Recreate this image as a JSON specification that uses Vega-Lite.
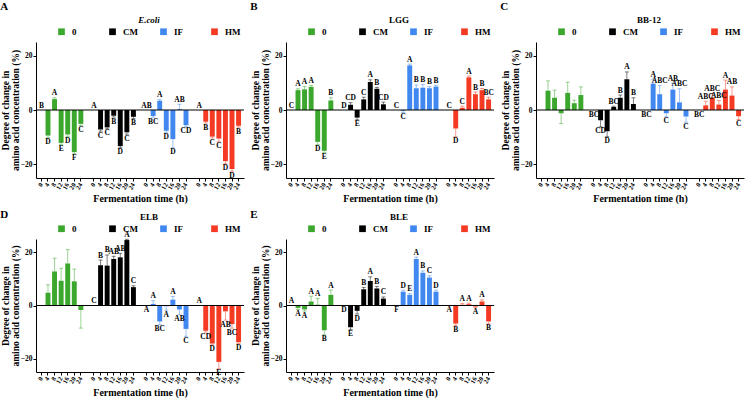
{
  "$schema": "https://vega.github.io/schema/vega-lite/v6.json",
  "padding": {"left": 0, "top": 1, "right": 0, "bottom": 0},
  "background": "white",
  "config": {
    "font": "Liberation Serif",
    "view": {"stroke": null},
    "title": {"font": "Liberation Serif", "fontWeight": "bold", "color": "black", "anchor": "start", "frame": "bounds", "fontSize": 11, "offset": 0},
    "axis": {
      "labelFont": "Liberation Serif", "labelFontWeight": "bold", "labelColor": "black",
      "titleFont": "Liberation Serif", "titleFontWeight": "bold", "titleColor": "black",
      "domainColor": "black", "tickColor": "black", "grid": false, "tickSize": 3
    },
    "axisY": {"labelFontSize": 7.5, "labelPadding": 1, "titleFontSize": 9.5, "titleLineHeight": 10, "titlePadding": 0},
    "axisX": {"labelFontSize": 6.5, "labelAngle": -60, "labelPadding": 2, "titleFontSize": 10, "titlePadding": 3},
    "legend": {
      "orient": "none", "direction": "horizontal", "columns": 4, "gridAlign": "all",
      "columnPadding": 20, "symbolType": "square", "symbolSize": 45, "symbolStrokeWidth": 0, "symbolOpacity": 1,
      "labelFont": "Liberation Serif", "labelFontWeight": "bold", "labelFontSize": 9, "labelColor": "black",
      "labelOffset": 6, "padding": 0, "legendX": 21, "legendY": -26,
      "titleOrient": "top", "titleAnchor": "middle", "titleFont": "Liberation Serif", "titleFontWeight": "bold",
      "titleFontSize": 9, "titleColor": "black", "titlePadding": 2
    }
  },
  "datasets": {
    "aa": [
      {"p": "A", "g": "0", "h": 0, "v": 0, "sd": 0, "sig": "B"},
      {"p": "A", "g": "0", "h": 4, "v": -9.4, "sd": 0.8, "sig": "D"},
      {"p": "A", "g": "0", "h": 8, "v": 4.0, "sd": 0.5, "sig": "A"},
      {"p": "A", "g": "0", "h": 12, "v": -12.1, "sd": 0.6, "sig": "E"},
      {"p": "A", "g": "0", "h": 16, "v": -9.0, "sd": 0.7, "sig": "D"},
      {"p": "A", "g": "0", "h": 20, "v": -15.5, "sd": 0.6, "sig": "F"},
      {"p": "A", "g": "0", "h": 24, "v": -5.1, "sd": 0.6, "sig": "C"},
      {"p": "A", "g": "CM", "h": 0, "v": 0, "sd": 0, "sig": "A"},
      {"p": "A", "g": "CM", "h": 4, "v": -7.2, "sd": 0.6, "sig": "C"},
      {"p": "A", "g": "CM", "h": 8, "v": -6.4, "sd": 0.5, "sig": "C"},
      {"p": "A", "g": "CM", "h": 12, "v": -2.1, "sd": 0.5, "sig": "B"},
      {"p": "A", "g": "CM", "h": 16, "v": -13.3, "sd": 0.6, "sig": "D"},
      {"p": "A", "g": "CM", "h": 20, "v": -8.2, "sd": 0.7, "sig": "C"},
      {"p": "A", "g": "CM", "h": 24, "v": -2.5, "sd": 0.6, "sig": "B"},
      {"p": "A", "g": "IF", "h": 0, "v": 0, "sd": 0, "sig": "AB"},
      {"p": "A", "g": "IF", "h": 4, "v": -2.2, "sd": 0.5, "sig": "BC"},
      {"p": "A", "g": "IF", "h": 8, "v": 3.4, "sd": 0.4, "sig": "A"},
      {"p": "A", "g": "IF", "h": 12, "v": -7.6, "sd": 0.6, "sig": "D"},
      {"p": "A", "g": "IF", "h": 16, "v": -10.7, "sd": 3.2, "sig": "D"},
      {"p": "A", "g": "IF", "h": 20, "v": 0.3, "sd": 1.8, "sig": "AB"},
      {"p": "A", "g": "IF", "h": 24, "v": -5.6, "sd": 0.6, "sig": "CD"},
      {"p": "A", "g": "HM", "h": 0, "v": 0, "sd": 0, "sig": "A"},
      {"p": "A", "g": "HM", "h": 4, "v": -4.3, "sd": 0.5, "sig": "B"},
      {"p": "A", "g": "HM", "h": 8, "v": -9.8, "sd": 0.5, "sig": "C"},
      {"p": "A", "g": "HM", "h": 12, "v": -10.5, "sd": 1.2, "sig": "C"},
      {"p": "A", "g": "HM", "h": 16, "v": -18.8, "sd": 1.0, "sig": "D"},
      {"p": "A", "g": "HM", "h": 20, "v": -21.7, "sd": 0.8, "sig": "D"},
      {"p": "A", "g": "HM", "h": 24, "v": -5.8, "sd": 0.5, "sig": "B"},

      {"p": "B", "g": "0", "h": 0, "v": 0, "sd": 0, "sig": "C"},
      {"p": "B", "g": "0", "h": 4, "v": 7.3, "sd": 0.5, "sig": "A"},
      {"p": "B", "g": "0", "h": 8, "v": 7.6, "sd": 1.0, "sig": "A"},
      {"p": "B", "g": "0", "h": 12, "v": 8.5, "sd": 0.5, "sig": "A"},
      {"p": "B", "g": "0", "h": 16, "v": -11.7, "sd": 1.0, "sig": "D"},
      {"p": "B", "g": "0", "h": 20, "v": -15.0, "sd": 0.6, "sig": "E"},
      {"p": "B", "g": "0", "h": 24, "v": 3.5, "sd": 1.0, "sig": "B"},
      {"p": "B", "g": "CM", "h": 0, "v": 0, "sd": 0, "sig": "D"},
      {"p": "B", "g": "CM", "h": 4, "v": 1.9, "sd": 0.8, "sig": "CD"},
      {"p": "B", "g": "CM", "h": 8, "v": -2.8, "sd": 0.8, "sig": "E"},
      {"p": "B", "g": "CM", "h": 12, "v": 3.9, "sd": 0.8, "sig": "C"},
      {"p": "B", "g": "CM", "h": 16, "v": 10.3, "sd": 0.8, "sig": "A"},
      {"p": "B", "g": "CM", "h": 20, "v": 7.8, "sd": 0.5, "sig": "B"},
      {"p": "B", "g": "CM", "h": 24, "v": 2.1, "sd": 0.8, "sig": "CD"},
      {"p": "B", "g": "IF", "h": 0, "v": 0, "sd": 0, "sig": "C"},
      {"p": "B", "g": "IF", "h": 4, "v": -0.3, "sd": 0.6, "sig": "C"},
      {"p": "B", "g": "IF", "h": 8, "v": 16.4, "sd": 0.5, "sig": "A"},
      {"p": "B", "g": "IF", "h": 12, "v": 8.0, "sd": 1.2, "sig": "B"},
      {"p": "B", "g": "IF", "h": 16, "v": 8.2, "sd": 1.2, "sig": "B"},
      {"p": "B", "g": "IF", "h": 20, "v": 8.0, "sd": 0.6, "sig": "B"},
      {"p": "B", "g": "IF", "h": 24, "v": 8.6, "sd": 0.5, "sig": "B"},
      {"p": "B", "g": "HM", "h": 0, "v": 0, "sd": 0, "sig": "C"},
      {"p": "B", "g": "HM", "h": 4, "v": -6.8, "sd": 3.0, "sig": "D"},
      {"p": "B", "g": "HM", "h": 8, "v": 0.8, "sd": 0.6, "sig": "C"},
      {"p": "B", "g": "HM", "h": 12, "v": 12.0, "sd": 0.5, "sig": "A"},
      {"p": "B", "g": "HM", "h": 16, "v": 5.8, "sd": 0.8, "sig": "B"},
      {"p": "B", "g": "HM", "h": 20, "v": 7.3, "sd": 0.6, "sig": "B"},
      {"p": "B", "g": "HM", "h": 24, "v": 3.9, "sd": 0.8, "sig": "BC"},

      {"p": "C", "g": "0", "h": 0, "v": 0, "sd": 0, "sig": ""},
      {"p": "C", "g": "0", "h": 4, "v": 7.1, "sd": 3.6, "sig": ""},
      {"p": "C", "g": "0", "h": 8, "v": 4.5, "sd": 2.8, "sig": ""},
      {"p": "C", "g": "0", "h": 12, "v": -1.2, "sd": 3.8, "sig": ""},
      {"p": "C", "g": "0", "h": 16, "v": 6.3, "sd": 3.9, "sig": ""},
      {"p": "C", "g": "0", "h": 20, "v": 2.5, "sd": 1.1, "sig": ""},
      {"p": "C", "g": "0", "h": 24, "v": 5.5, "sd": 3.0, "sig": ""},
      {"p": "C", "g": "CM", "h": 0, "v": -0.01, "sd": 0, "sig": "BC"},
      {"p": "C", "g": "CM", "h": 4, "v": -3.8, "sd": 2.4, "sig": "CD"},
      {"p": "C", "g": "CM", "h": 8, "v": -7.8, "sd": 2.0, "sig": "D"},
      {"p": "C", "g": "CM", "h": 12, "v": 1.1, "sd": 0.3, "sig": "BC"},
      {"p": "C", "g": "CM", "h": 16, "v": 4.5, "sd": 1.0, "sig": "B"},
      {"p": "C", "g": "CM", "h": 20, "v": 11.3, "sd": 2.7, "sig": "A"},
      {"p": "C", "g": "CM", "h": 24, "v": 2.2, "sd": 2.3, "sig": "B"},
      {"p": "C", "g": "IF", "h": 0, "v": -0.01, "sd": 0, "sig": "BC"},
      {"p": "C", "g": "IF", "h": 4, "v": 9.7, "sd": 1.6, "sig": "A"},
      {"p": "C", "g": "IF", "h": 8, "v": 5.8, "sd": 3.2, "sig": "ABC"},
      {"p": "C", "g": "IF", "h": 12, "v": -1.2, "sd": 1.3, "sig": "C"},
      {"p": "C", "g": "IF", "h": 16, "v": 7.5, "sd": 2.3, "sig": "AB"},
      {"p": "C", "g": "IF", "h": 20, "v": 2.8, "sd": 5.0, "sig": "ABC"},
      {"p": "C", "g": "IF", "h": 24, "v": -2.4, "sd": 2.1, "sig": "C"},
      {"p": "C", "g": "HM", "h": 0, "v": -0.01, "sd": 0, "sig": "BC"},
      {"p": "C", "g": "HM", "h": 4, "v": 1.7, "sd": 1.5, "sig": "ABC"},
      {"p": "C", "g": "HM", "h": 8, "v": 4.5, "sd": 1.5, "sig": "ABC"},
      {"p": "C", "g": "HM", "h": 12, "v": 2.0, "sd": 1.5, "sig": "ABC"},
      {"p": "C", "g": "HM", "h": 16, "v": 7.5, "sd": 3.5, "sig": "A"},
      {"p": "C", "g": "HM", "h": 20, "v": 5.3, "sd": 3.2, "sig": "AB"},
      {"p": "C", "g": "HM", "h": 24, "v": -2.3, "sd": 1.2, "sig": "C"},

      {"p": "D", "g": "0", "h": 0, "v": 0, "sd": 0, "sig": ""},
      {"p": "D", "g": "0", "h": 4, "v": 4.8, "sd": 3.0, "sig": ""},
      {"p": "D", "g": "0", "h": 8, "v": 12.8, "sd": 5.0, "sig": ""},
      {"p": "D", "g": "0", "h": 12, "v": 9.3, "sd": 4.7, "sig": ""},
      {"p": "D", "g": "0", "h": 16, "v": 15.8, "sd": 5.2, "sig": ""},
      {"p": "D", "g": "0", "h": 20, "v": 9.1, "sd": 4.6, "sig": ""},
      {"p": "D", "g": "0", "h": 24, "v": -1.7, "sd": 6.8, "sig": ""},
      {"p": "D", "g": "CM", "h": 0, "v": 0, "sd": 0, "sig": "C"},
      {"p": "D", "g": "CM", "h": 4, "v": 15.1, "sd": 2.0, "sig": "B"},
      {"p": "D", "g": "CM", "h": 8, "v": 15.0, "sd": 4.0, "sig": "B"},
      {"p": "D", "g": "CM", "h": 12, "v": 17.5, "sd": 1.0, "sig": "AB"},
      {"p": "D", "g": "CM", "h": 16, "v": 18.1, "sd": 1.5, "sig": "AB"},
      {"p": "D", "g": "CM", "h": 20, "v": 24.6, "sd": 0.3, "sig": "A"},
      {"p": "D", "g": "CM", "h": 24, "v": 6.9, "sd": 0.5, "sig": "C"},
      {"p": "D", "g": "IF", "h": 0, "v": -0.01, "sd": 0, "sig": "A"},
      {"p": "D", "g": "IF", "h": 4, "v": 0.6, "sd": 1.2, "sig": "A"},
      {"p": "D", "g": "IF", "h": 8, "v": -6.0, "sd": 1.2, "sig": "BC"},
      {"p": "D", "g": "IF", "h": 12, "v": -0.3, "sd": 1.5, "sig": "A"},
      {"p": "D", "g": "IF", "h": 16, "v": 2.2, "sd": 1.2, "sig": "A"},
      {"p": "D", "g": "IF", "h": 20, "v": -1.5, "sd": 2.0, "sig": "AB"},
      {"p": "D", "g": "IF", "h": 24, "v": -8.8, "sd": 2.8, "sig": "C"},
      {"p": "D", "g": "HM", "h": 0, "v": 0, "sd": 0, "sig": "A"},
      {"p": "D", "g": "HM", "h": 4, "v": -9.5, "sd": 0.5, "sig": "CD"},
      {"p": "D", "g": "HM", "h": 8, "v": -14.3, "sd": 0.5, "sig": "D"},
      {"p": "D", "g": "HM", "h": 12, "v": -21.2, "sd": 2.6, "sig": "E"},
      {"p": "D", "g": "HM", "h": 16, "v": -2.2, "sd": 3.3, "sig": "AB"},
      {"p": "D", "g": "HM", "h": 20, "v": -7.0, "sd": 1.5, "sig": "BC"},
      {"p": "D", "g": "HM", "h": 24, "v": -13.8, "sd": 0.5, "sig": "D"},

      {"p": "E", "g": "0", "h": 0, "v": 0, "sd": 0, "sig": "A"},
      {"p": "E", "g": "0", "h": 4, "v": -0.9, "sd": 0.6, "sig": "A"},
      {"p": "E", "g": "0", "h": 8, "v": -1.5, "sd": 0.6, "sig": "A"},
      {"p": "E", "g": "0", "h": 12, "v": 1.5, "sd": 2.0, "sig": "A"},
      {"p": "E", "g": "0", "h": 16, "v": 0.3, "sd": 2.4, "sig": "A"},
      {"p": "E", "g": "0", "h": 20, "v": -9.3, "sd": 1.7, "sig": "B"},
      {"p": "E", "g": "0", "h": 24, "v": 4.0, "sd": 1.8, "sig": "A"},
      {"p": "E", "g": "CM", "h": 0, "v": -0.01, "sd": 0, "sig": "D"},
      {"p": "E", "g": "CM", "h": 4, "v": -8.2, "sd": 0.8, "sig": "E"},
      {"p": "E", "g": "CM", "h": 8, "v": -2.0, "sd": 1.2, "sig": "D"},
      {"p": "E", "g": "CM", "h": 12, "v": 6.1, "sd": 0.7, "sig": "B"},
      {"p": "E", "g": "CM", "h": 16, "v": 9.2, "sd": 1.6, "sig": "A"},
      {"p": "E", "g": "CM", "h": 20, "v": 6.4, "sd": 0.8, "sig": "B"},
      {"p": "E", "g": "CM", "h": 24, "v": 2.6, "sd": 0.6, "sig": "C"},
      {"p": "E", "g": "IF", "h": 0, "v": -0.01, "sd": 0, "sig": "F"},
      {"p": "E", "g": "IF", "h": 4, "v": 5.2, "sd": 0.6, "sig": "D"},
      {"p": "E", "g": "IF", "h": 8, "v": 4.0, "sd": 0.5, "sig": "E"},
      {"p": "E", "g": "IF", "h": 12, "v": 17.5, "sd": 0.7, "sig": "A"},
      {"p": "E", "g": "IF", "h": 16, "v": 12.3, "sd": 0.7, "sig": "B"},
      {"p": "E", "g": "IF", "h": 20, "v": 10.5, "sd": 0.7, "sig": "C"},
      {"p": "E", "g": "IF", "h": 24, "v": 5.2, "sd": 0.6, "sig": "D"},
      {"p": "E", "g": "HM", "h": 0, "v": -0.01, "sd": 0, "sig": "A"},
      {"p": "E", "g": "HM", "h": 4, "v": -6.8, "sd": 0.7, "sig": "B"},
      {"p": "E", "g": "HM", "h": 8, "v": 0.3, "sd": 0.5, "sig": "A"},
      {"p": "E", "g": "HM", "h": 12, "v": 0.5, "sd": 0.4, "sig": "A"},
      {"p": "E", "g": "HM", "h": 16, "v": -0.4, "sd": 0.4, "sig": "A"},
      {"p": "E", "g": "HM", "h": 20, "v": 1.5, "sd": 0.6, "sig": "A"},
      {"p": "E", "g": "HM", "h": 24, "v": -6.0, "sd": 0.9, "sig": "B"}
    ]
  },
  "columns": 3,
  "spacing": {"column": 5, "row": 5},
  "resolve": {"scale": {"color": "independent"}, "legend": {"color": "independent"}},
  "concat": [
    {
      "title": "A",
      "width": 208, "height": 136,
      "data": {"name": "aa"},
      "transform": [
        {"filter": "datum.p == 'A'"},
        {"calculate": "datum.g + '|' + datum.h", "as": "k"},
        {"calculate": "datum.v < 0 ? datum.v - datum.sd : datum.v + datum.sd", "as": "e"}
      ],
      "layer": [
        {
          "encoding": {
            "x": {"field": "k", "type": "nominal",
              "scale": {"domain": ["0|0","0|4","0|8","0|12","0|16","0|20","0|24","g1","CM|0","CM|4","CM|8","CM|12","CM|16","CM|20","CM|24","g2","IF|0","IF|4","IF|8","IF|12","IF|16","IF|20","IF|24","g3","HM|0","HM|4","HM|8","HM|12","HM|16","HM|20","HM|24"], "paddingInner": 0.25, "paddingOuter": 0.45},
              "axis": {"values": ["0|0","0|4","0|8","0|12","0|16","0|20","0|24","CM|0","CM|4","CM|8","CM|12","CM|16","CM|20","CM|24","IF|0","IF|4","IF|8","IF|12","IF|16","IF|20","IF|24","HM|0","HM|4","HM|8","HM|12","HM|16","HM|20","HM|24"], "labelExpr": "split(datum.value, '|')[1]", "title": "Fermentation time (h)"}}
          },
          "layer": [
            {"mark": {"type": "bar"},
             "encoding": {
               "y": {"field": "v", "type": "quantitative", "scale": {"domain": [-25, 25]}, "axis": {"values": [-20, -10, 0, 10, 20], "title": ["Degree of change in", "amino acid concentration (%)"]}},
               "color": {"field": "g", "type": "nominal", "scale": {"domain": ["0", "CM", "IF", "HM"], "range": ["#3ba72c", "#000000", "#4088ef", "#f43a22"]}, "legend": {"title": "E.coli", "titleFontStyle": "italic", "symbolOpacity": 1}}
             }},
            {"transform": [{"filter": "datum.sd > 0"}],
             "mark": {"type": "rule", "strokeOpacity": 0.5, "strokeWidth": 1},
             "encoding": {"y": {"field": "v", "type": "quantitative"}, "y2": {"field": "e"}, "color": {"field": "g", "type": "nominal"}}},
            {"transform": [{"filter": "datum.sd > 0"}],
             "mark": {"type": "tick", "orient": "horizontal", "size": 4, "thickness": 1, "fillOpacity": 0.5, "strokeOpacity": 0.5},
             "encoding": {"y": {"field": "e", "type": "quantitative"}, "color": {"field": "g", "type": "nominal"}}},
            {"transform": [{"filter": "datum.v >= 0"}],
             "mark": {"type": "text", "baseline": "bottom", "dy": -0.5, "fontSize": 7.5, "fontWeight": "bold", "color": "black"},
             "encoding": {"y": {"field": "e", "type": "quantitative"}, "text": {"field": "sig"}}},
            {"transform": [{"filter": "datum.v < 0"}],
             "mark": {"type": "text", "baseline": "top", "dy": 0.5, "fontSize": 7.5, "fontWeight": "bold", "color": "black"},
             "encoding": {"y": {"field": "e", "type": "quantitative"}, "text": {"field": "sig"}}}
          ]
        },
        {"data": {"values": [{}]}, "mark": {"type": "rule", "color": "black", "strokeWidth": 1}, "encoding": {"y": {"datum": 0}}}
      ]
    },
    {
      "title": "B",
      "width": 208, "height": 136,
      "data": {"name": "aa"},
      "transform": [
        {"filter": "datum.p == 'B'"},
        {"calculate": "datum.g + '|' + datum.h", "as": "k"},
        {"calculate": "datum.v < 0 ? datum.v - datum.sd : datum.v + datum.sd", "as": "e"}
      ],
      "layer": [
        {
          "encoding": {
            "x": {"field": "k", "type": "nominal",
              "scale": {"domain": ["0|0","0|4","0|8","0|12","0|16","0|20","0|24","g1","CM|0","CM|4","CM|8","CM|12","CM|16","CM|20","CM|24","g2","IF|0","IF|4","IF|8","IF|12","IF|16","IF|20","IF|24","g3","HM|0","HM|4","HM|8","HM|12","HM|16","HM|20","HM|24"], "paddingInner": 0.25, "paddingOuter": 0.45},
              "axis": {"values": ["0|0","0|4","0|8","0|12","0|16","0|20","0|24","CM|0","CM|4","CM|8","CM|12","CM|16","CM|20","CM|24","IF|0","IF|4","IF|8","IF|12","IF|16","IF|20","IF|24","HM|0","HM|4","HM|8","HM|12","HM|16","HM|20","HM|24"], "labelExpr": "split(datum.value, '|')[1]", "title": "Fermentation time (h)"}}
          },
          "layer": [
            {"mark": {"type": "bar"},
             "encoding": {
               "y": {"field": "v", "type": "quantitative", "scale": {"domain": [-25, 25]}, "axis": {"values": [-20, -10, 0, 10, 20], "title": ["Degree of change in", "amino acid concentration (%)"]}},
               "color": {"field": "g", "type": "nominal", "scale": {"domain": ["0", "CM", "IF", "HM"], "range": ["#3ba72c", "#000000", "#4088ef", "#f43a22"]}, "legend": {"title": "LGG", "symbolOpacity": 1}}
             }},
            {"transform": [{"filter": "datum.sd > 0"}],
             "mark": {"type": "rule", "strokeOpacity": 0.5, "strokeWidth": 1},
             "encoding": {"y": {"field": "v", "type": "quantitative"}, "y2": {"field": "e"}, "color": {"field": "g", "type": "nominal"}}},
            {"transform": [{"filter": "datum.sd > 0"}],
             "mark": {"type": "tick", "orient": "horizontal", "size": 4, "thickness": 1, "fillOpacity": 0.5, "strokeOpacity": 0.5},
             "encoding": {"y": {"field": "e", "type": "quantitative"}, "color": {"field": "g", "type": "nominal"}}},
            {"transform": [{"filter": "datum.v >= 0"}],
             "mark": {"type": "text", "baseline": "bottom", "dy": -0.5, "fontSize": 7.5, "fontWeight": "bold", "color": "black"},
             "encoding": {"y": {"field": "e", "type": "quantitative"}, "text": {"field": "sig"}}},
            {"transform": [{"filter": "datum.v < 0"}],
             "mark": {"type": "text", "baseline": "top", "dy": 0.5, "fontSize": 7.5, "fontWeight": "bold", "color": "black"},
             "encoding": {"y": {"field": "e", "type": "quantitative"}, "text": {"field": "sig"}}}
          ]
        },
        {"data": {"values": [{}]}, "mark": {"type": "rule", "color": "black", "strokeWidth": 1}, "encoding": {"y": {"datum": 0}}}
      ]
    },
    {
      "title": "C",
      "width": 208, "height": 136,
      "data": {"name": "aa"},
      "transform": [
        {"filter": "datum.p == 'C'"},
        {"calculate": "datum.g + '|' + datum.h", "as": "k"},
        {"calculate": "datum.v < 0 ? datum.v - datum.sd : datum.v + datum.sd", "as": "e"}
      ],
      "layer": [
        {
          "encoding": {
            "x": {"field": "k", "type": "nominal",
              "scale": {"domain": ["0|0","0|4","0|8","0|12","0|16","0|20","0|24","g1","CM|0","CM|4","CM|8","CM|12","CM|16","CM|20","CM|24","g2","IF|0","IF|4","IF|8","IF|12","IF|16","IF|20","IF|24","g3","HM|0","HM|4","HM|8","HM|12","HM|16","HM|20","HM|24"], "paddingInner": 0.25, "paddingOuter": 0.45},
              "axis": {"values": ["0|0","0|4","0|8","0|12","0|16","0|20","0|24","CM|0","CM|4","CM|8","CM|12","CM|16","CM|20","CM|24","IF|0","IF|4","IF|8","IF|12","IF|16","IF|20","IF|24","HM|0","HM|4","HM|8","HM|12","HM|16","HM|20","HM|24"], "labelExpr": "split(datum.value, '|')[1]", "title": "Fermentation time (h)"}}
          },
          "layer": [
            {"mark": {"type": "bar"},
             "encoding": {
               "y": {"field": "v", "type": "quantitative", "scale": {"domain": [-25, 25]}, "axis": {"values": [-20, -10, 0, 10, 20], "title": ["Degree of change in", "amino acid concentration (%)"]}},
               "color": {"field": "g", "type": "nominal", "scale": {"domain": ["0", "CM", "IF", "HM"], "range": ["#3ba72c", "#000000", "#4088ef", "#f43a22"]}, "legend": {"title": "BB-12", "symbolOpacity": 1}}
             }},
            {"transform": [{"filter": "datum.sd > 0"}],
             "mark": {"type": "rule", "strokeOpacity": 0.5, "strokeWidth": 1},
             "encoding": {"y": {"field": "v", "type": "quantitative"}, "y2": {"field": "e"}, "color": {"field": "g", "type": "nominal"}}},
            {"transform": [{"filter": "datum.sd > 0"}],
             "mark": {"type": "tick", "orient": "horizontal", "size": 4, "thickness": 1, "fillOpacity": 0.5, "strokeOpacity": 0.5},
             "encoding": {"y": {"field": "e", "type": "quantitative"}, "color": {"field": "g", "type": "nominal"}}},
            {"transform": [{"filter": "datum.v >= 0"}],
             "mark": {"type": "text", "baseline": "bottom", "dy": -0.5, "fontSize": 7.5, "fontWeight": "bold", "color": "black"},
             "encoding": {"y": {"field": "e", "type": "quantitative"}, "text": {"field": "sig"}}},
            {"transform": [{"filter": "datum.v < 0"}],
             "mark": {"type": "text", "baseline": "top", "dy": 0.5, "fontSize": 7.5, "fontWeight": "bold", "color": "black"},
             "encoding": {"y": {"field": "e", "type": "quantitative"}, "text": {"field": "sig"}}}
          ]
        },
        {"data": {"values": [{}]}, "mark": {"type": "rule", "color": "black", "strokeWidth": 1}, "encoding": {"y": {"datum": 0}}}
      ]
    },
    {
      "title": {"text": "D", "offset": -7},
      "width": 208, "height": 133,
      "data": {"name": "aa"},
      "transform": [
        {"filter": "datum.p == 'D'"},
        {"calculate": "datum.g + '|' + datum.h", "as": "k"},
        {"calculate": "datum.v < 0 ? datum.v - datum.sd : datum.v + datum.sd", "as": "e"}
      ],
      "layer": [
        {
          "encoding": {
            "x": {"field": "k", "type": "nominal",
              "scale": {"domain": ["0|0","0|4","0|8","0|12","0|16","0|20","0|24","g1","CM|0","CM|4","CM|8","CM|12","CM|16","CM|20","CM|24","g2","IF|0","IF|4","IF|8","IF|12","IF|16","IF|20","IF|24","g3","HM|0","HM|4","HM|8","HM|12","HM|16","HM|20","HM|24"], "paddingInner": 0.25, "paddingOuter": 0.45},
              "axis": {"values": ["0|0","0|4","0|8","0|12","0|16","0|20","0|24","CM|0","CM|4","CM|8","CM|12","CM|16","CM|20","CM|24","IF|0","IF|4","IF|8","IF|12","IF|16","IF|20","IF|24","HM|0","HM|4","HM|8","HM|12","HM|16","HM|20","HM|24"], "labelExpr": "split(datum.value, '|')[1]", "title": "Fermentation time (h)"}}
          },
          "layer": [
            {"mark": {"type": "bar"},
             "encoding": {
               "y": {"field": "v", "type": "quantitative", "scale": {"domain": [-25, 25]}, "axis": {"values": [-20, -10, 0, 10, 20], "title": ["Degree of change in", "amino acid concentration (%)"]}},
               "color": {"field": "g", "type": "nominal", "scale": {"domain": ["0", "CM", "IF", "HM"], "range": ["#3ba72c", "#000000", "#4088ef", "#f43a22"]}, "legend": {"title": "ELB", "symbolOpacity": 1}}
             }},
            {"transform": [{"filter": "datum.sd > 0"}],
             "mark": {"type": "rule", "strokeOpacity": 0.5, "strokeWidth": 1},
             "encoding": {"y": {"field": "v", "type": "quantitative"}, "y2": {"field": "e"}, "color": {"field": "g", "type": "nominal"}}},
            {"transform": [{"filter": "datum.sd > 0"}],
             "mark": {"type": "tick", "orient": "horizontal", "size": 4, "thickness": 1, "fillOpacity": 0.5, "strokeOpacity": 0.5},
             "encoding": {"y": {"field": "e", "type": "quantitative"}, "color": {"field": "g", "type": "nominal"}}},
            {"transform": [{"filter": "datum.v >= 0"}],
             "mark": {"type": "text", "baseline": "bottom", "dy": -0.5, "fontSize": 7.5, "fontWeight": "bold", "color": "black"},
             "encoding": {"y": {"field": "e", "type": "quantitative"}, "text": {"field": "sig"}}},
            {"transform": [{"filter": "datum.v < 0"}],
             "mark": {"type": "text", "baseline": "top", "dy": 0.5, "fontSize": 7.5, "fontWeight": "bold", "color": "black"},
             "encoding": {"y": {"field": "e", "type": "quantitative"}, "text": {"field": "sig"}}}
          ]
        },
        {"data": {"values": [{}]}, "mark": {"type": "rule", "color": "black", "strokeWidth": 1}, "encoding": {"y": {"datum": 0}}}
      ]
    },
    {
      "title": {"text": "E", "offset": -7},
      "width": 208, "height": 133,
      "data": {"name": "aa"},
      "transform": [
        {"filter": "datum.p == 'E'"},
        {"calculate": "datum.g + '|' + datum.h", "as": "k"},
        {"calculate": "datum.v < 0 ? datum.v - datum.sd : datum.v + datum.sd", "as": "e"}
      ],
      "layer": [
        {
          "encoding": {
            "x": {"field": "k", "type": "nominal",
              "scale": {"domain": ["0|0","0|4","0|8","0|12","0|16","0|20","0|24","g1","CM|0","CM|4","CM|8","CM|12","CM|16","CM|20","CM|24","g2","IF|0","IF|4","IF|8","IF|12","IF|16","IF|20","IF|24","g3","HM|0","HM|4","HM|8","HM|12","HM|16","HM|20","HM|24"], "paddingInner": 0.25, "paddingOuter": 0.45},
              "axis": {"values": ["0|0","0|4","0|8","0|12","0|16","0|20","0|24","CM|0","CM|4","CM|8","CM|12","CM|16","CM|20","CM|24","IF|0","IF|4","IF|8","IF|12","IF|16","IF|20","IF|24","HM|0","HM|4","HM|8","HM|12","HM|16","HM|20","HM|24"], "labelExpr": "split(datum.value, '|')[1]", "title": "Fermentation time (h)"}}
          },
          "layer": [
            {"mark": {"type": "bar"},
             "encoding": {
               "y": {"field": "v", "type": "quantitative", "scale": {"domain": [-25, 25]}, "axis": {"values": [-20, -10, 0, 10, 20], "title": ["Degree of change in", "amino acid concentration (%)"]}},
               "color": {"field": "g", "type": "nominal", "scale": {"domain": ["0", "CM", "IF", "HM"], "range": ["#3ba72c", "#000000", "#4088ef", "#f43a22"]}, "legend": {"title": "BLE", "symbolOpacity": 1}}
             }},
            {"transform": [{"filter": "datum.sd > 0"}],
             "mark": {"type": "rule", "strokeOpacity": 0.5, "strokeWidth": 1},
             "encoding": {"y": {"field": "v", "type": "quantitative"}, "y2": {"field": "e"}, "color": {"field": "g", "type": "nominal"}}},
            {"transform": [{"filter": "datum.sd > 0"}],
             "mark": {"type": "tick", "orient": "horizontal", "size": 4, "thickness": 1, "fillOpacity": 0.5, "strokeOpacity": 0.5},
             "encoding": {"y": {"field": "e", "type": "quantitative"}, "color": {"field": "g", "type": "nominal"}}},
            {"transform": [{"filter": "datum.v >= 0"}],
             "mark": {"type": "text", "baseline": "bottom", "dy": -0.5, "fontSize": 7.5, "fontWeight": "bold", "color": "black"},
             "encoding": {"y": {"field": "e", "type": "quantitative"}, "text": {"field": "sig"}}},
            {"transform": [{"filter": "datum.v < 0"}],
             "mark": {"type": "text", "baseline": "top", "dy": 0.5, "fontSize": 7.5, "fontWeight": "bold", "color": "black"},
             "encoding": {"y": {"field": "e", "type": "quantitative"}, "text": {"field": "sig"}}}
          ]
        },
        {"data": {"values": [{}]}, "mark": {"type": "rule", "color": "black", "strokeWidth": 1}, "encoding": {"y": {"datum": 0}}}
      ]
    }
  ]
}
